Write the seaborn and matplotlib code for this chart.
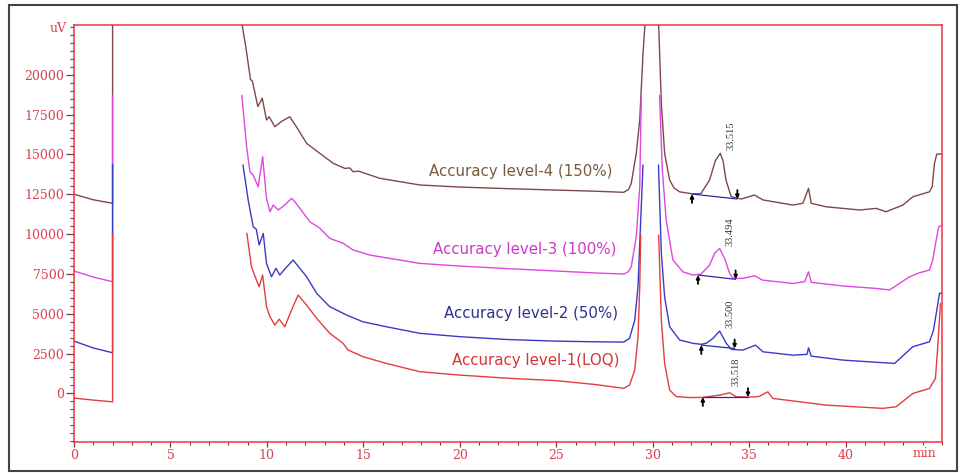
import matplotlib
matplotlib.use("Agg")
import matplotlib.pyplot as plt
import numpy as np
import pandas as pd
import seaborn as sns
from matplotlib.ticker import MultipleLocator, FixedLocator
from matplotlib.patches import Rectangle

# ---------------- data ----------------
levels = ["Accuracy level-4 (150%)", "Accuracy level-3 (100%)",
          "Accuracy level-2 (50%)", "Accuracy level-1(LOQ)"]

# Level-4 (150%)
l4_pre_t = [0, 1, 2, 2]
l4_pre_v = [12500, 12150, 11930, 24000]
l4_mid_t = [8.66, 8.9, 9.15, 9.25, 9.53, 9.76, 9.98, 10.12, 10.41, 10.8, 11.19, 11.6, 12.06,
            12.75, 13.44, 14.04, 14.3, 14.47, 14.75, 14.99, 15.85, 17.93, 20, 22.5, 25, 27,
            28.5, 28.75, 28.89, 29.15, 29.33, 29.5, 29.62]
l4_mid_v = [23500, 21800, 19700, 19600, 18000, 18520, 17160, 17360, 16740, 17100, 17360, 16600,
            15690, 15060, 14440, 14120, 14150, 13910, 13950, 13850, 13500, 13080, 12950, 12850,
            12760, 12690, 12620, 12800, 13180, 15070, 17160, 21340, 23500]
l4_post_t = [30.3, 30.45, 30.62, 30.88, 31.1, 31.4, 32.09, 32.5, 32.95, 33.25, 33.5, 33.65, 33.8,
             34.07, 34.59, 35.28, 35.72, 36.5, 37.27, 37.79, 38.08, 38.22, 39.0, 40.73, 41.59,
             42.1, 42.97, 43.49, 44.35, 44.49, 44.61, 44.73, 45.0]
l4_post_v = [23500, 18200, 15070, 13390, 12900, 12650, 12520, 12540, 13390, 14600, 15070, 14600,
             13390, 12350, 12200, 12450, 12140, 11980, 11820, 11930, 12870, 11930, 11710, 11510,
             11610, 11400, 11820, 12340, 12650, 12970, 14440, 15020, 15020]

# Level-3 (100%)
l3_pre_t = [0, 1, 2, 2]
l3_pre_v = [7680, 7300, 7010, 18700]
l3_mid_t = [8.7, 8.95, 9.12, 9.29, 9.55, 9.78, 9.98, 10.16, 10.33, 10.59, 10.9, 11.28, 11.45,
            12.23, 12.75, 13.26, 13.95, 14.47, 15.34, 17.93, 20, 22.5, 25, 27, 28.5, 28.75,
            28.89, 29.15, 29.33, 29.41]
l3_mid_v = [18700, 15480, 13910, 13700, 12970, 14850, 12240, 11400, 11820, 11510, 11800, 12240,
            12030, 10770, 10360, 9730, 9420, 9000, 8680, 8160, 7990, 7830, 7680, 7560, 7490,
            7650, 7950, 9830, 12970, 18700]
l3_post_t = [30.36, 30.5, 30.7, 31.05, 31.57, 32.09, 32.5, 32.95, 33.21, 33.47, 33.73, 33.99,
             34.16, 34.68, 35.28, 35.7, 37.27, 37.88, 38.08, 38.22, 39.86, 41.59, 42.28, 43.32,
             43.83, 44.35, 44.52, 44.7, 44.83, 45.0]
l3_post_v = [18700, 14020, 10880, 8370, 7630, 7430, 7480, 8050, 8790, 9100, 8470, 7530,
             7220, 7220, 7380, 7110, 6900, 7010, 7630, 6970, 6740, 6590, 6490, 7320,
             7570, 7740, 8370, 9620, 10460, 10560]

# Level-2 (50%)
l2_pre_t = [0, 1, 2, 2]
l2_pre_v = [3280, 2850, 2550, 14350]
l2_mid_t = [8.76, 9.03, 9.29, 9.45, 9.6, 9.81, 9.98, 10.24, 10.47, 10.67, 11.0, 11.36, 12.06,
            12.58, 13.26, 14.13, 14.99, 16.2, 17.93, 20, 22.5, 25, 27, 28.5, 28.8, 29.07,
            29.24, 29.38, 29.5]
l2_mid_v = [14340, 12140, 10460, 10300, 9310, 10040, 8160, 7320, 7850, 7430, 7900, 8370, 7320,
            6280, 5440, 4920, 4490, 4180, 3770, 3560, 3380, 3280, 3240, 3220, 3450, 4600,
            6690, 10880, 14340]
l2_post_t = [30.3, 30.45, 30.62, 30.88, 31.4, 32.09, 32.52, 32.78, 33.12, 33.47, 33.82, 34.08,
             34.68, 35.33, 35.72, 37.27, 38.0, 38.08, 38.22, 39.86, 42.54, 43.49, 44.35, 44.56,
             44.73, 44.87, 45.0]
l2_post_v = [14340, 8790, 6060, 4180, 3350, 3140, 3080, 3150, 3450, 3910, 3140, 2760,
             2720, 3030, 2610, 2400, 2450, 2860, 2340, 2090, 1880, 2930, 3240, 3970,
             5230, 6280, 6300]

# Level-1 (LOQ)
l1_pre_t = [0, 1, 2, 2]
l1_pre_v = [-295, -420, -530, 10000]
l1_mid_t = [8.96, 9.2, 9.46, 9.6, 9.78, 9.98, 10.16, 10.41, 10.64, 10.93, 11.3, 11.62, 12.06,
            12.58, 13.26, 13.95, 14.21, 14.99, 16.2, 17.93, 20, 22.5, 25, 27, 28.5, 28.8,
            29.07, 29.24, 29.33, 29.38]
l1_mid_v = [10060, 7950, 7110, 6690, 7430, 5440, 4810, 4290, 4660, 4180, 5300, 6170, 5540,
            4710, 3770, 3140, 2720, 2300, 1880, 1360, 1150, 950, 800, 560, 320, 520,
            1460, 3550, 6690, 9940]
l1_post_t = [30.31, 30.45, 30.62, 30.88, 31.23, 31.92, 32.6, 33.47, 33.99, 34.33, 34.94, 35.5,
             35.97, 36.23, 39.0, 41.93, 42.62, 43.49, 44.35, 44.66, 44.78, 44.92]
l1_post_v = [9940, 4600, 1880, 210, -200, -260, -250, -110, 40, -210, -230, -200,
             100, -315, -735, -940, -840, 0, 310, 940, 2930, 5650]

# peak annotations
peak_labels = ["33.515", "33.494", "33.500", "33.518"]
peak_label_t = [34.05, 34.0, 34.02, 34.33]
peak_label_v = [16150, 10180, 4980, 1360]

# integration baselines (start / end)
int_start_t = [32.04, 32.35, 32.52, 32.6]
int_start_v = [12510, 7430, 3030, -230]
int_end_t = [34.39, 34.3, 34.25, 34.94]
int_end_v = [12200, 7160, 2820, -230]

# trace labels
label_right_t = [27.94, 28.12, 28.2, 28.29]
label_v = [13910, 9000, 5020, 2090]

# axis ticks
x_major = [0, 5, 10, 15, 20, 25, 30, 35, 40]
y_major = [0, 2500, 5000, 7500, 10000, 12500, 15000, 17500, 20000]

line_colors = ["#7d4848", "#e046e0", "#3a3ac8", "#e43c3c"]
text_colors = ["#7a5a3c", "#cc38cc", "#303094", "#d43434"]

# ---------------- build table ----------------
segs = {
    levels[0]: [(l4_pre_t, l4_pre_v), (l4_mid_t, l4_mid_v), (l4_post_t, l4_post_v)],
    levels[1]: [(l3_pre_t, l3_pre_v), (l3_mid_t, l3_mid_v), (l3_post_t, l3_post_v)],
    levels[2]: [(l2_pre_t, l2_pre_v), (l2_mid_t, l2_mid_v), (l2_post_t, l2_post_v)],
    levels[3]: [(l1_pre_t, l1_pre_v), (l1_mid_t, l1_mid_v), (l1_post_t, l1_post_v)],
}
rows = []
for lev, lst in segs.items():
    for k, (tt, vv) in enumerate(lst):
        for t, v in zip(tt, vv):
            rows.append({"time": t, "signal": v, "level": lev, "seg": k})
df = pd.DataFrame(rows)

# ---------------- plot ----------------
sns.set_theme(style="white")
plt.rcParams["font.family"] = ["DejaVu Sans"]

fig = plt.figure(figsize=(9.63, 4.73), dpi=100)
ax = fig.add_axes([74 / 963, 31 / 473, 868 / 963, 417 / 473])

sns.lineplot(data=df, x="time", y="signal", hue="level", hue_order=levels,
             palette=dict(zip(levels, line_colors)), units="seg", estimator=None,
             sort=False, legend=False, linewidth=1.0, ax=ax)

ax.set_xlim(0, 45)
ax.set_ylim(-3050, 23120)
ax.set_xlabel("")
ax.set_ylabel("")

ax.xaxis.set_major_locator(FixedLocator(x_major))
ax.xaxis.set_minor_locator(MultipleLocator(1))
ax.yaxis.set_major_locator(FixedLocator(y_major))
ax.yaxis.set_minor_locator(MultipleLocator(500))
ax.set_xticklabels([str(v) for v in x_major], family="DejaVu Serif")
ax.set_yticklabels([str(v) for v in y_major], family="DejaVu Serif")

spine_c = "#e8353f"
for s in ax.spines.values():
    s.set_color(spine_c)
    s.set_linewidth(1.1)
    s.set_visible(True)

tick_c = "#8a3040"
lab_c = "#d8404f"
ax.tick_params(axis="y", which="major", direction="out", length=6, width=0.9,
               color=tick_c, labelcolor=lab_c, pad=1, labelsize=9, left=True)
ax.tick_params(axis="y", which="minor", direction="out", length=3, width=0.8,
               color=tick_c, left=True)
ax.tick_params(axis="x", which="major", direction="out", length=3.5, width=0.9,
               color=tick_c, labelcolor=lab_c, pad=1.5, labelsize=9, bottom=True)
ax.tick_params(axis="x", which="minor", direction="out", length=2.5, width=0.8,
               color=tick_c, bottom=True)

ax.text(-0.008, 1 - 3 / 417, "uV", transform=ax.transAxes, ha="right", va="center",
        color=lab_c, fontsize=9, family="DejaVu Serif")
ax.text(0.98, -0.027, "min", transform=ax.transAxes, ha="center", va="center",
        color=lab_c, fontsize=9, family="DejaVu Serif")

# trace labels
for lev, x, y, c in zip(levels, label_right_t, label_v, text_colors):
    ax.text(x, y, lev, ha="right", va="center", color=c, fontsize=10.8, family="DejaVu Sans")

# integration baselines and arrows
for xs, ys, xe, ye in zip(int_start_t, int_start_v, int_end_t, int_end_v):
    ax.plot([xs, xe], [ys, ye], color="#2a2aa8", lw=0.9)
    ax.annotate("", xy=(xs, ys), xytext=(xs, ys - 560),
                arrowprops=dict(arrowstyle="-|>", color="black", lw=1.3,
                                mutation_scale=5, shrinkA=0, shrinkB=0))
    ax.annotate("", xy=(xe, ye), xytext=(xe, ye + 560),
                arrowprops=dict(arrowstyle="-|>", color="black", lw=1.3,
                                mutation_scale=5, shrinkA=0, shrinkB=0))

# peak retention-time labels
for lab, x, y in zip(peak_labels, peak_label_t, peak_label_v):
    ax.text(x, y, lab, rotation=90, ha="center", va="center", color="#333333",
            fontsize=7.5, family="Liberation Serif")

# outer frame
fig.patches.append(Rectangle((9 / 963, 2 / 473), 948 / 963, 466 / 473,
                             transform=fig.transFigure, fill=False,
                             edgecolor="#444444", lw=1.5))

fig.savefig("out.png", dpi=100)
